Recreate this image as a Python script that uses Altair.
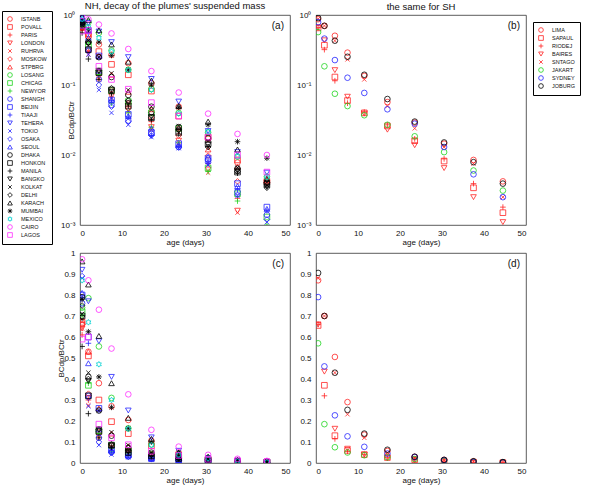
import math
import altair as alt
import pandas as pd

# ---------------- data ----------------
ages = [0.5, 2, 4.5, 7.5, 11.5, 17, 23.5, 30.5, 37.5, 44.5]

nh_cities = ["ISTANB", "POVALL", "PARIS", "LONDON", "RUHRVA", "MOSKOW", "STPBRG",
             "LOSANG", "CHICAG", "NEWYOR",
             "SHANGH", "BEIJIN", "TIAAJI", "TEHERA", "TOKIO", "OSAKA", "SEOUL",
             "DHAKA", "HONKON", "MANILA", "BANGKO", "KOLKAT", "DELHI", "KARACH", "MUMBAI",
             "MEXICO", "CAIRO", "LAGOS"]

nh_values = [
    [0.66, 0.53, 0.38, 0.27, 0.205, 0.106, 0.049, 0.017, 0.0078, 0.0043],   # ISTANB
    [0.67, 0.51, 0.30, 0.197, 0.14, 0.082, 0.036, 0.018, 0.0085, 0.0042],   # POVALL
    [0.61, 0.30, 0.14, 0.075, 0.052, 0.030, 0.022, 0.0075, 0.0024, 0.0008], # PARIS
    [0.64, 0.31, 0.13, 0.07, 0.045, 0.025, 0.016, 0.0062, 0.0016, 0.0007],  # LONDON
    [0.64, 0.275, 0.12, 0.065, 0.042, 0.023, 0.014, 0.0056, 0.0015, 0.0007],# RUHRVA
    [0.66, 0.33, 0.15, 0.085, 0.055, 0.034, 0.019, 0.0098, 0.0042, 0.0040], # MOSKOW
    [0.68, 0.53, 0.26, 0.14, 0.08, 0.045, 0.025, 0.012, 0.0068, 0.0044],    # STPBRG
    [0.74, 0.785, 0.555, 0.31, 0.165, 0.088, 0.040, 0.021, 0.0095, 0.0049], # LOSANG
    [0.72, 0.37, 0.155, 0.083, 0.058, 0.040, 0.024, 0.0065, 0.0028, 0.0013],# CHICAG
    [0.70, 0.38, 0.14, 0.055, 0.04, 0.025, 0.015, 0.0058, 0.0022, 0.0010],  # NEWYOR
    [0.76, 0.32, 0.12, 0.052, 0.031, 0.020, 0.013, 0.0085, 0.0030, 0.0014], # SHANGH
    [0.80, 0.60, 0.26, 0.061, 0.038, 0.021, 0.0145, 0.0089, 0.0039, 0.0018],# BEIJIN
    [0.79, 0.57, 0.25, 0.06, 0.035, 0.019, 0.0130, 0.0076, 0.0032, 0.0016], # TIAAJI
    [0.92, 0.77, 0.58, 0.41, 0.25, 0.122, 0.058, 0.022, 0.011, 0.0056],     # TEHERA
    [0.88, 0.27, 0.085, 0.040, 0.027, 0.018, 0.0125, 0.0072, 0.0026, 0.0011],# TOKIO
    [0.89, 0.31, 0.10, 0.049, 0.030, 0.019, 0.0128, 0.0078, 0.0027, 0.0012],# OSAKA
    [0.81, 0.475, 0.16, 0.062, 0.036, 0.024, 0.014, 0.0095, 0.0036, 0.0017],# SEOUL
    [0.79, 0.41, 0.25, 0.13, 0.072, 0.049, 0.025, 0.0175, 0.0064, 0.0040],  # DHAKA
    [0.70, 0.32, 0.15, 0.085, 0.05, 0.034, 0.021, 0.0145, 0.0057, 0.0038],  # HONKON
    [0.555, 0.235, 0.12, 0.075, 0.05, 0.032, 0.020, 0.013, 0.0055, 0.0036], # MANILA
    [0.69, 0.39, 0.16, 0.08, 0.055, 0.035, 0.022, 0.014, 0.0060, 0.0035],   # BANGKO
    [0.71, 0.43, 0.25, 0.147, 0.085, 0.049, 0.026, 0.016, 0.0066, 0.0041],  # KOLKAT
    [0.75, 0.40, 0.16, 0.09, 0.06, 0.040, 0.023, 0.013, 0.0058, 0.0034],    # DELHI
    [0.96, 0.85, 0.605, 0.38, 0.215, 0.115, 0.050, 0.030, 0.012, 0.0046],   # KARACH
    [0.78, 0.625, 0.41, 0.265, 0.165, 0.10, 0.048, 0.027, 0.0155, 0.0090],  # MUMBAI
    [0.87, 0.67, 0.47, 0.30, 0.163, 0.085, 0.039, 0.0215, 0.0095, 0.0048],  # MEXICO
    [0.97, 0.87, 0.73, 0.545, 0.327, 0.158, 0.078, 0.039, 0.020, 0.010],    # CAIRO
    [0.59, 0.60, 0.185, 0.12, 0.087, 0.056, 0.036, 0.018, 0.010, 0.0057],   # LAGOS
]

sh_cities = ["LIMA", "SAPAUL", "RIODEJ", "BAIRES", "SNTAGO", "JAKART", "SYDNEY", "JOBURG"]

sh_values = [
    [0.87, 0.70, 0.505, 0.29, 0.135, 0.057, 0.029, 0.0145, 0.0085, 0.0042],  # LIMA
    [0.655, 0.37, 0.13, 0.060, 0.040, 0.026, 0.016, 0.0082, 0.0034, 0.0015], # SAPAUL
    [0.66, 0.32, 0.115, 0.055, 0.041, 0.027, 0.017, 0.0088, 0.0039, 0.0018], # RIODEJ
    [0.66, 0.435, 0.163, 0.068, 0.039, 0.023, 0.0138, 0.0065, 0.0025, 0.0011],# BAIRES
    [0.88, 0.70, 0.43, 0.232, 0.12, 0.050, 0.024, 0.013, 0.0075, 0.0025],    # SNTAGO
    [0.57, 0.185, 0.075, 0.050, 0.037, 0.027, 0.0185, 0.011, 0.0060, 0.0031],# JAKART
    [0.79, 0.46, 0.227, 0.127, 0.077, 0.045, 0.028, 0.013, 0.0053, 0.0025],  # SYDNEY
    [0.905, 0.70, 0.43, 0.253, 0.14, 0.063, 0.030, 0.0151, 0.0079, 0.0039], # JOBURG
]

log_ticks = [0.001, 0.01, 0.1, 1]
lin_ticks = [0, 0.1, 0.2, 0.3, 0.4, 0.5, 0.6, 0.7, 0.8, 0.9, 1]
age_ticks = [0, 10, 20, 30, 40, 50]
panel_labels = ["(a)", "(b)", "(c)", "(d)"]
titles = ["NH, decay of the plumes' suspended mass", "the same for SH"]
x_title = "age (days)"
y_title = "BCdp/BCtr"

# ---------------- styles ----------------
RED, GREEN, BLUE, BLACK = "#ff2424", "#1fd41f", "#2424ff", "#000000"
CYAN, MAG = "#00d0d0", "#ff2cff"
PLUS = "M-1,0H1M0,-1V1"
XMARK = "M-0.75,-0.75L0.75,0.75M-0.75,0.75L0.75,-0.75"
AST = "M-1,0H1M0,-1V1M-0.72,-0.72L0.72,0.72M-0.72,0.72L0.72,-0.72"
_pts = []
for k in range(12):
    r = 1.0 if k % 2 == 0 else 0.58
    a = math.pi / 2 + k * math.pi / 6
    _pts.append(f"{r * math.cos(a):.3f},{-r * math.sin(a):.3f}")
HEXA = "M" + "L".join(_pts) + "Z"

nh_colors = [RED] * 7 + [GREEN] * 3 + [BLUE] * 7 + [BLACK] * 8 + [CYAN, MAG, MAG]
base7 = ["circle", "square", PLUS, "triangle-down", XMARK, "diamond", "triangle-up"]
nh_shapes = base7 + ["circle", "square", PLUS] + base7 + base7[:4] + [XMARK, "diamond", "triangle-up", AST] \
    + [HEXA, "circle", "square"]
sh_colors = [RED] * 5 + [GREEN, BLUE, BLACK]
sh_shapes = ["circle", "square", PLUS, "triangle-down", XMARK, "circle", "circle", "circle"]


def long_df(cities, values):
    rows = []
    for c, vals in zip(cities, values):
        for t, v in zip(ages, vals):
            rows.append({"city": c, "age": t, "val": v})
    return pd.DataFrame(rows)


nh_df = long_df(nh_cities, nh_values)
sh_df = long_df(sh_cities, sh_values)

FONT = "Liberation Sans"
W, H = 210, 210

log_label = ("datum.value >= 0.5 ? '10⁰' : datum.value >= 0.05 ? '10⁻¹' : "
             "datum.value >= 0.005 ? '10⁻²' : '10⁻³'")


def make_legend(lx, ly):
    return alt.Legend(title=None, orient="none", legendX=lx, legendY=ly, direction="vertical",
                      labelFont=FONT, labelFontSize=5.5, labelColor="#111", labelOffset=8,
                      symbolSize=22, symbolStrokeWidth=0.8, rowPadding=0, padding=5,
                      strokeColor="#000", fillColor="white", symbolLimit=40, labelLimit=60)


def panel(df, cities, colors, shapes, log, label, title=None, ytitle=None, legend=None,
          ytitle_x=-8):
    if log:
        yscale = alt.Scale(type="log", domain=[0.001, 1], nice=False)
        yaxis = alt.Axis(values=log_ticks, labelExpr=log_label, title=ytitle,
                         titleX=ytitle_x, titleY=H / 2, titleAngle=270, titleBaseline="alphabetic")
    else:
        yscale = alt.Scale(domain=[0, 1], nice=False)
        yaxis = alt.Axis(values=lin_ticks, format="~g", title=ytitle,
                         titleX=ytitle_x, titleY=H / 2, titleAngle=270, titleBaseline="alphabetic")
    color = alt.Color("city:N", scale=alt.Scale(domain=cities, range=colors), legend=legend)
    shape = alt.Shape("city:N", scale=alt.Scale(domain=cities, range=shapes), legend=legend)
    pts = alt.Chart(df).mark_point(filled=False, size=32, strokeWidth=0.8, clip=True,
                                   opacity=1).encode(
        x=alt.X("age:Q", scale=alt.Scale(domain=[0, 50], nice=False),
                axis=alt.Axis(values=age_ticks, title=x_title)),
        y=alt.Y("val:Q", scale=yscale, axis=yaxis),
        color=color,
        shape=shape,
    )
    lab = alt.Chart(pd.DataFrame({"lab": [label]})).mark_text(
        align="right", baseline="middle", font=FONT, fontSize=10, color="#111"
    ).encode(x=alt.value(W - 6), y=alt.value(11), text="lab:N")
    props = dict(width=W, height=H)
    if title is not None:
        props["title"] = title
    return alt.layer(pts, lab).properties(**props)


pa = panel(nh_df, nh_cities, nh_colors, nh_shapes, True, panel_labels[0],
           title=alt.TitleParams(titles[0], fontSize=9.5, font=FONT, fontWeight="normal",
                                 dx=-10, offset=0, color="#111"),
           ytitle=y_title, legend=make_legend(-78, -4), ytitle_x=-7)
pb = panel(sh_df, sh_cities, sh_colors, sh_shapes, True, panel_labels[1],
           title=alt.TitleParams(titles[1], fontSize=9.5, font=FONT, fontWeight="normal",
                                 offset=0, color="#111"),
           legend=make_legend(217, 7))
pc = panel(nh_df, nh_cities, nh_colors, nh_shapes, False, panel_labels[2],
           ytitle=y_title, ytitle_x=-17)
pd_ = panel(sh_df, sh_cities, sh_colors, sh_shapes, False, panel_labels[3])

chart = alt.concat(
    pa, pb, pc, pd_, columns=2, spacing={"row": 28, "column": 26}, bounds="flush",
    padding={"left": 1, "top": 0, "right": 14, "bottom": 3},
).resolve_scale(
    color="independent", shape="independent"
).configure(
    font=FONT, background="white"
).configure_view(
    stroke="#333", strokeWidth=0.8
).configure_axis(
    grid=False, domain=False, ticks=False, labelFont=FONT, labelFontSize=8,
    labelColor="#111", titleFont=FONT, titleFontSize=8, titleFontWeight="normal",
    titleColor="#111", labelPadding=5, titlePadding=1
).configure_axisX(
    labelPadding=4
)

chart.save("out.html", embed_options={"renderer": "svg", "actions": False})
